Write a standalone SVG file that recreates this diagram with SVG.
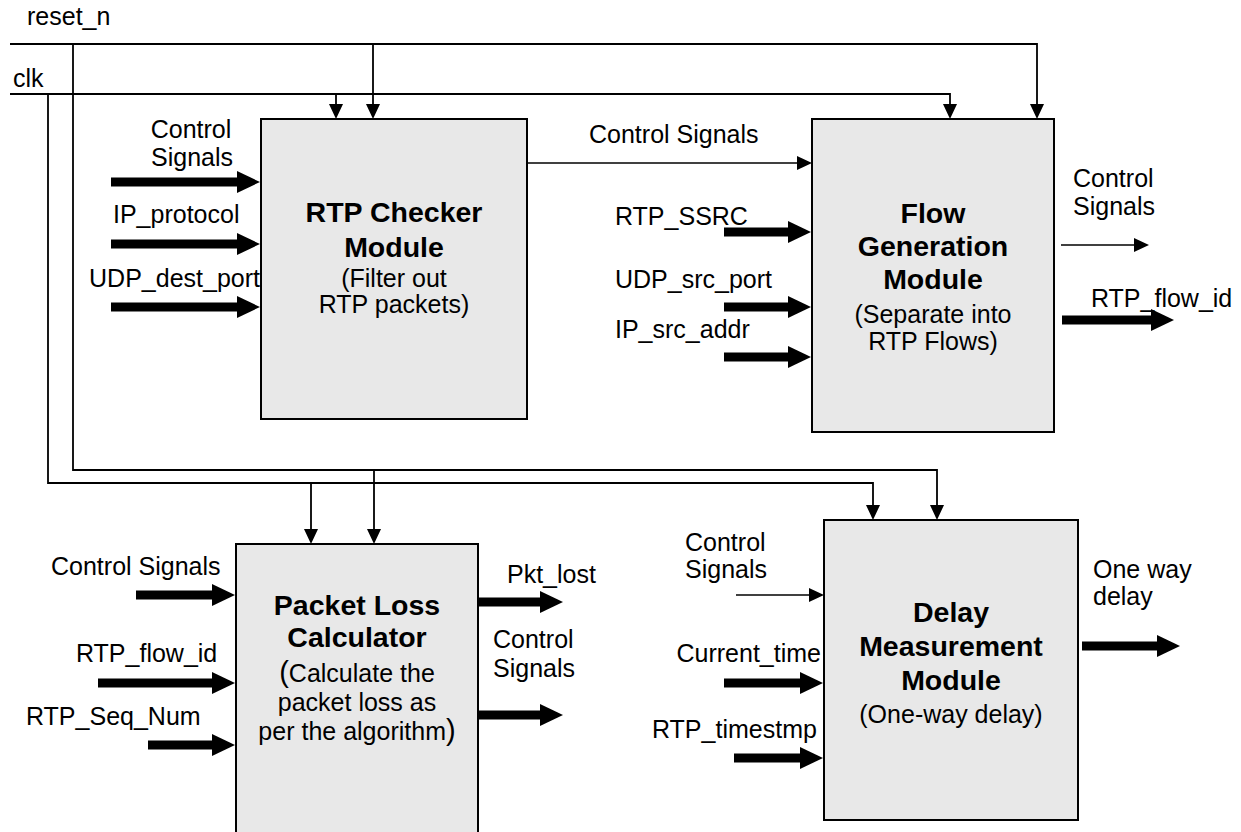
<svg xmlns="http://www.w3.org/2000/svg" width="1241" height="832" viewBox="0 0 1241 832">
<style>
text{font-family:"Liberation Sans",Arial,sans-serif;font-size:25px;fill:#000}
.b{font-weight:bold;font-size:28.5px}
.c{text-anchor:middle}
.e{text-anchor:end}
.box{fill:#e8e8e8;stroke:#000;stroke-width:2}
.sig{fill:none;stroke:#000;stroke-width:1.8}
.thin{fill:none;stroke:#000;stroke-width:1.5}
.thick{fill:none;stroke:#000;stroke-width:9}
</style>
<defs>
<marker id="hs" markerUnits="userSpaceOnUse" markerWidth="14" markerHeight="15" viewBox="0 0 14 15" refX="7" refY="0" orient="auto-start-reverse" overflow="visible">
<path d="M0,0 L14,0 L7,15 z" fill="#000" transform="rotate(-90 7 0) translate(0 -7) rotate(0)"/>
</marker>
<marker id="ht" markerUnits="userSpaceOnUse" markerWidth="15" markerHeight="14" viewBox="0 0 15 14" refX="1" refY="7" orient="auto" overflow="visible">
<path d="M0,0 L15,7 L0,14 z" fill="#000"/>
</marker>
<marker id="hb" markerUnits="userSpaceOnUse" markerWidth="23" markerHeight="22" viewBox="0 0 23 22" refX="1" refY="11" orient="auto" overflow="visible">
<path d="M0,0 L23,11 L0,22 z" fill="#000"/>
</marker>
</defs>

<g id="connectors">
<!-- reset_n -->
<path class="sig" d="M10,44 H1037 V105" marker-end="url(#ht)"/>
<path class="sig" d="M373,44 V105" marker-end="url(#ht)"/>
<path class="sig" d="M73,44 V470 H937 V506" marker-end="url(#ht)"/>
<path class="sig" d="M374,470 V530" marker-end="url(#ht)"/>
<!-- clk -->
<path class="sig" d="M10,94 H950 V105" marker-end="url(#ht)"/>
<path class="sig" d="M336,94 V105" marker-end="url(#ht)"/>
<path class="sig" d="M48,94 V483 H873 V506" marker-end="url(#ht)"/>
<path class="sig" d="M311,483 V530" marker-end="url(#ht)"/>
<!-- thin control arrows -->
<path class="thin" d="M527,163 H798" marker-end="url(#ht)"/>
<path class="thin" d="M1061,245 H1135" marker-end="url(#ht)"/>
<path class="thin" d="M736,595 H810" marker-end="url(#ht)"/>
<!-- thick arrows -->
<path class="thick" d="M111,182 H238" marker-end="url(#hb)"/>
<path class="thick" d="M111,244 H238" marker-end="url(#hb)"/>
<path class="thick" d="M111,307 H238" marker-end="url(#hb)"/>
<path class="thick" d="M724,232 H789" marker-end="url(#hb)"/>
<path class="thick" d="M724,307 H789" marker-end="url(#hb)"/>
<path class="thick" d="M724,357 H789" marker-end="url(#hb)"/>
<path class="thick" d="M1062,320 H1152" marker-end="url(#hb)"/>
<path class="thick" d="M136,595 H213" marker-end="url(#hb)"/>
<path class="thick" d="M98,683 H213" marker-end="url(#hb)"/>
<path class="thick" d="M148,745 H213" marker-end="url(#hb)"/>
<path class="thick" d="M478,602 H541" marker-end="url(#hb)"/>
<path class="thick" d="M478,715 H541" marker-end="url(#hb)"/>
<path class="thick" d="M724,683 H801" marker-end="url(#hb)"/>
<path class="thick" d="M734,758 H801" marker-end="url(#hb)"/>
<path class="thick" d="M1082,646 H1158" marker-end="url(#hb)"/>
</g>

<g id="labels">
<text x="27" y="25">reset_n</text>
<text x="13" y="87">clk</text>
<text class="c" x="191" y="138">Control</text>
<text class="c" x="192" y="166">Signals</text>
<text x="113" y="223">IP_protocol</text>
<text class="e" x="260" y="287">UDP_dest_port</text>
<text x="589" y="143">Control Signals</text>
<text x="615" y="225">RTP_SSRC</text>
<text x="615" y="288">UDP_src_port</text>
<text x="615" y="338">IP_src_addr</text>
<text x="1073" y="187">Control</text>
<text x="1073" y="215">Signals</text>
<text x="1091" y="307">RTP_flow_id</text>
<text x="51" y="575">Control Signals</text>
<text x="76" y="662">RTP_flow_id</text>
<text x="26" y="725">RTP_Seq_Num</text>
<text x="507" y="583">Pkt_lost</text>
<text x="493" y="648">Control</text>
<text x="493" y="677">Signals</text>
<text x="685" y="551">Control</text>
<text x="685" y="578">Signals</text>
<text class="e" x="821" y="662">Current_time</text>
<text x="652" y="738">RTP_timestmp</text>
<text x="1093" y="578">One way</text>
<text x="1093" y="605">delay</text>
</g>

<g id="rtp-checker">
<rect class="box" x="261" y="119" width="266" height="300"/>
<text class="b c" x="394" y="222">RTP Checker</text>
<text class="b c" x="394" y="257">Module</text>
<text class="c" x="394" y="287">(Filter out</text>
<text class="c" x="394" y="313">RTP packets)</text>
</g>

<g id="flow-generation">
<rect class="box" x="812" y="119" width="242" height="313"/>
<text class="b c" x="933" y="223">Flow</text>
<text class="b c" x="933" y="256">Generation</text>
<text class="b c" x="933" y="289">Module</text>
<text class="c" x="933" y="323">(Separate into</text>
<text class="c" x="933" y="350">RTP Flows)</text>
</g>

<g id="packet-loss">
<rect class="box" x="236" y="544" width="242" height="300"/>
<text class="b c" x="357" y="615">Packet Loss</text>
<text class="b c" x="357" y="647">Calculator</text>
<text class="c" x="357" y="682"><tspan font-size="29">(</tspan>Calculate the</text>
<text class="c" x="357" y="711">packet loss as</text>
<text class="c" x="357" y="740">per the algorithm<tspan font-size="29">)</tspan></text>
</g>

<g id="delay-measurement">
<rect class="box" x="824" y="520" width="254" height="300"/>
<text class="b c" x="951" y="622">Delay</text>
<text class="b c" x="951" y="656">Measurement</text>
<text class="b c" x="951" y="690">Module</text>
<text class="c" x="951" y="723" font-size="29">(One-way delay)</text>
</g>
</svg>
